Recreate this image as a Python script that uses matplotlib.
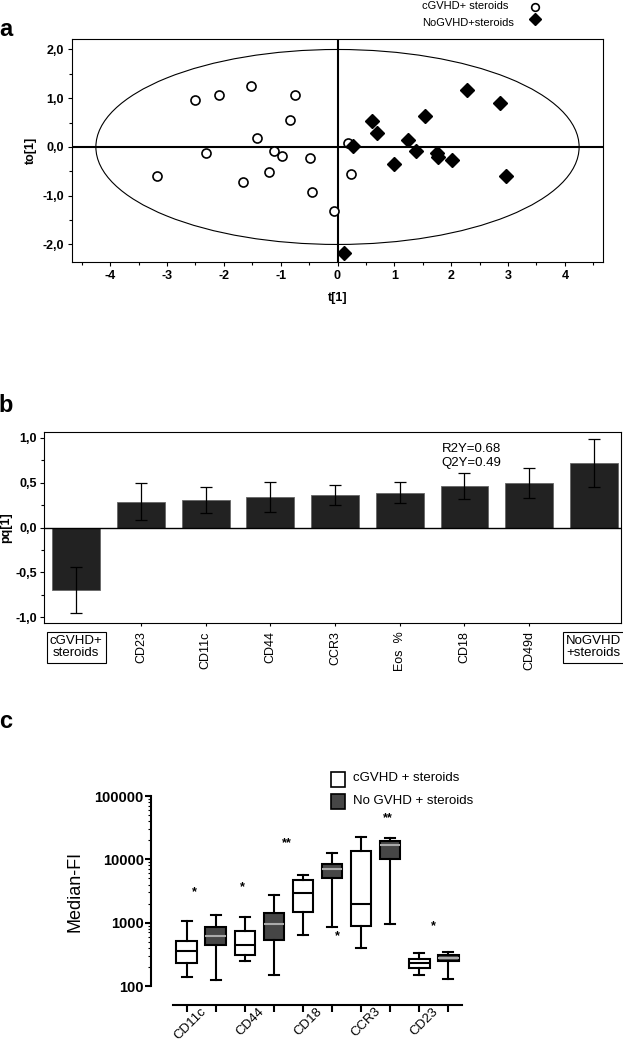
import numpy as np
import matplotlib
matplotlib.use("Agg")
import matplotlib.pyplot as plt
from matplotlib.patches import Ellipse, Rectangle
from matplotlib.ticker import FuncFormatter, MultipleLocator, LogLocator, NullFormatter

plt.rcParams['font.family'] = ['Liberation Sans', 'DejaVu Sans']
plt.rcParams['axes.unicode_minus'] = False

# ---- panel a: score plot ----
circ_x = [-2.51, -2.09, -1.53, -0.75, -0.84, -1.42, -2.32, -1.12, -0.98, -0.49,
          -3.18, -1.67, -1.21, -0.44, -0.06, 0.18, 0.24]
circ_y = [0.96, 1.06, 1.26, 1.07, 0.55, 0.18, -0.12, -0.08, -0.19, -0.22,
          -0.60, -0.71, -0.51, -0.92, -1.32, 0.09, -0.56]
dia_x = [0.28, 0.60, 0.70, 1.00, 1.24, 1.38, 1.54, 1.75, 1.76, 2.02, 2.27, 2.85, 2.97, 0.11]
dia_y = [0.03, 0.53, 0.29, -0.34, 0.15, -0.08, 0.63, -0.13, -0.21, -0.27, 1.16, 0.90, -0.59, -2.17]

# ---- panel b: loadings ----
load_names = ["cGVHD+\nsteroids", "CD23", "CD11c", "CD44", "CCR3", "Eos  %", "CD18", "CD49d", "NoGVHD\n+steroids"]
load_vals = [-0.70, 0.29, 0.31, 0.34, 0.36, 0.39, 0.46, 0.50, 0.72]
load_err = [0.26, 0.21, 0.145, 0.17, 0.11, 0.12, 0.145, 0.17, 0.265]

# ---- panel c: box plots (whislo, q1, med, q3, whishi) ----
markers_c = ["CD11c", "CD44", "CD18", "CCR3", "CD23"]
box_cgvhd = [
    [141, 230, 352, 515, 1060],
    [250, 312, 440, 735, 1216],
    [650, 1480, 2930, 4790, 5680],
    [400, 883, 1983, 13370, 22900],
    [151, 192, 230, 266, 327],
]
box_nogvhd = [
    [125, 440, 627, 851, 1306],
    [151, 542, 963, 1443, 2692],
    [841, 5000, 6920, 8410, 12740],
    [964, 9950, 16600, 19300, 21400],
    [128, 244, 276, 312, 348],
]
star_x = [0.25, 1.9, 3.45, 5.2, 6.93, 8.48]
star_y = [3000, 3650, 18200, 605, 44700, 870]
star_txt = ["*", "*", "**", "*", "**", "*"]

W, H = 623, 1043
fig = plt.figure(figsize=(W / 100, H / 100), dpi=100)


def box(l, t, r, b):
    return [l / W, 1 - b / H, (r - l) / W, (b - t) / H]


comma = FuncFormatter(lambda v, p: f"{v:.1f}".replace('.', ','))

# panel a
ax1 = fig.add_axes(box(72, 39, 603, 262))
ax1.add_patch(Ellipse((0, 0), 8.5, 4.0, fill=False, ec='black', lw=0.8))
ax1.axhline(0, color='black', lw=1.5)
ax1.axvline(0, color='black', lw=1.5)
ax1.plot(circ_x, circ_y, 'o', mfc='white', mec='black', mew=1.2, ms=6.5, ls='none')
ax1.plot(dia_x, dia_y, 'D', color='black', ms=7.5, ls='none')
ax1.set_xlim(-4.67, 4.67)
ax1.set_ylim(-2.36, 2.215)
ax1.xaxis.set_major_locator(MultipleLocator(1))
ax1.xaxis.set_minor_locator(MultipleLocator(0.5))
ax1.yaxis.set_major_locator(MultipleLocator(1))
ax1.yaxis.set_minor_locator(MultipleLocator(0.5))
ax1.yaxis.set_major_formatter(comma)
ax1.tick_params(labelsize=9, length=3, width=0.8, pad=3)
ax1.tick_params(which='minor', length=2, width=0.8)
for lab in ax1.get_xticklabels() + ax1.get_yticklabels():
    lab.set_fontweight('bold')
ax1.set_xlabel("t[1]", fontsize=9, fontweight='bold', labelpad=7)
ax1.set_ylabel("to[1]", fontsize=9, fontweight='bold', labelpad=4)
fig.text(422 / W, 1 - 6 / H, "cGVHD+ steroids", fontsize=8, va='center')
fig.text(422 / W, 1 - 23 / H, "NoGVHD+steroids", fontsize=8, va='center')
fig.add_artist(plt.Line2D([535 / W], [1 - 7 / H], marker='o', mfc='white', mec='black',
                          mew=1.2, ms=5.5, transform=fig.transFigure))
fig.add_artist(plt.Line2D([535 / W], [1 - 19 / H], marker='D', color='black',
                          ms=6.5, transform=fig.transFigure))
fig.text(6 / W, 1 - 29 / H, "a", fontsize=17, fontweight='bold', ha='center', va='center')

# panel b
ax2 = fig.add_axes(box(44, 432, 621, 623))
xb = np.arange(len(load_vals))
ax2.bar(xb, load_vals, width=0.74, color='#222222', edgecolor='#666666', lw=0.6,
        yerr=load_err, error_kw=dict(ecolor='black', elinewidth=0.9, capsize=4, capthick=0.9))
ax2.axhline(0, color='black', lw=1)
ax2.set_xlim(-0.5, 8.42)
ax2.set_ylim(-1.067, 1.067)
ax2.yaxis.set_major_locator(MultipleLocator(0.5))
ax2.yaxis.set_minor_locator(MultipleLocator(0.25))
ax2.yaxis.set_major_formatter(comma)
ax2.set_xticks(xb[1:-1])
ax2.set_xticklabels(load_names[1:-1], rotation=90, fontsize=9, va='top')
ax2.tick_params(axis='x', length=2, pad=4)
ax2.tick_params(axis='y', labelsize=9, length=3, width=0.8, pad=2)
ax2.tick_params(axis='y', which='minor', length=2, width=0.8)
for lab in ax2.get_yticklabels():
    lab.set_fontweight('bold')
ax2.set_ylabel("pq[1]", fontsize=9, fontweight='bold', labelpad=2)
for i in (0, len(load_vals) - 1):
    ax2.text(xb[i], -0.065, load_names[i], transform=ax2.get_xaxis_transform(),
             ha='center', va='top', fontsize=9.5, linespacing=1.0,
             bbox=dict(boxstyle='square,pad=0.25', fc='white', ec='black', lw=0.8))
ax2.text(5.65, 0.8, "R2Y=0.68\nQ2Y=0.49", fontsize=9.5, va='center', linespacing=1.15)
fig.text(6 / W, 1 - 406 / H, "b", fontsize=17, fontweight='bold', ha='center', va='center')

# panel c
ax3 = fig.add_axes(box(173, 796, 462, 986))
stats = []
for i in range(len(markers_c)):
    for j, src in enumerate((box_cgvhd, box_nogvhd)):
        lo, q1, med, q3, hi = src[i]
        stats.append(dict(whislo=lo, q1=q1, med=med, q3=q3, whishi=hi, fliers=[]))
pos = np.arange(len(stats))
bp = ax3.bxp(stats, positions=pos, widths=0.72, patch_artist=True, showfliers=False,
             boxprops=dict(lw=1.5, ec='black'), whiskerprops=dict(lw=1.5),
             capprops=dict(lw=1.5), medianprops=dict(lw=1.5, color='black'))
for k, patch in enumerate(bp['boxes']):
    if k % 2:
        patch.set_facecolor('#464646')
        bp['medians'][k].set_color('#aaaaaa')
    else:
        patch.set_facecolor('white')
for sx, sy, st in zip(star_x, star_y, star_txt):
    ax3.text(sx, sy, st, ha='center', va='center', fontsize=9, fontweight='bold')
ax3.set_yscale('log')
ax3.set_ylim(100, 100000)
ax3.set_xlim(-0.48, 9.48)
ax3.spines['top'].set_visible(False)
ax3.spines['right'].set_visible(False)
ax3.spines['left'].set_position(('outward', 16))
ax3.spines['bottom'].set_position(('outward', 14))
ax3.spines['left'].set_linewidth(1.5)
ax3.spines['bottom'].set_linewidth(1.5)
ax3.yaxis.set_major_locator(LogLocator(base=10, numticks=10))
ax3.yaxis.set_minor_locator(LogLocator(base=10, subs=np.arange(2, 10), numticks=10))
ax3.yaxis.set_minor_formatter(NullFormatter())
ax3.yaxis.set_major_formatter(FuncFormatter(lambda v, p: f"{int(round(v))}"))
ax3.tick_params(axis='y', labelsize=10.5, length=4, width=1.5, pad=1)
ax3.tick_params(axis='y', which='minor', length=2, width=0.8)
for lab in ax3.get_yticklabels():
    lab.set_fontweight('bold')
ax3.set_xticks(pos, minor=True)
ax3.set_xticks(pos[::2] + 0.6)
ax3.set_xticklabels(markers_c, rotation=45, ha='right', va='center',
                    rotation_mode='anchor', fontsize=9.5)
ax3.tick_params(axis='x', which='major', length=0, pad=3)
ax3.tick_params(axis='x', which='minor', length=5, width=1.5)
ax3.set_ylabel("Median-FI", fontsize=13, labelpad=8)
fig.add_artist(Rectangle((331 / W, 1 - 787 / H), 14 / W, 15 / H, fc='white', ec='black',
                         lw=1.2, transform=fig.transFigure))
fig.add_artist(Rectangle((331 / W, 1 - 809 / H), 14 / W, 15 / H, fc='#464646', ec='black',
                         lw=1.2, transform=fig.transFigure))
fig.text(353 / W, 1 - 778 / H, "cGVHD + steroids", fontsize=9.5, va='center')
fig.text(353 / W, 1 - 801 / H, "No GVHD + steroids", fontsize=9.5, va='center')
fig.text(6 / W, 1 - 722 / H, "c", fontsize=17, fontweight='bold', ha='center', va='center')

fig.savefig("out.png", dpi=100)
